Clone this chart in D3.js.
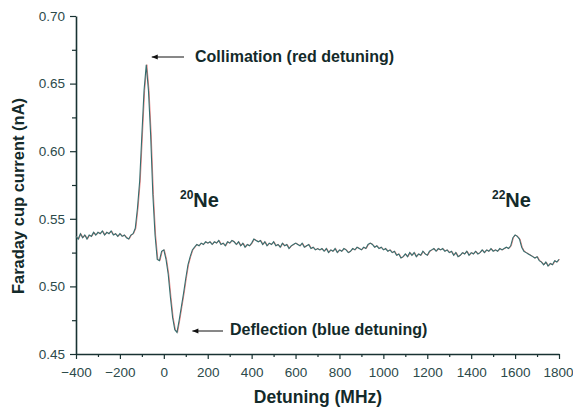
<!DOCTYPE html>
<html>
<head>
<meta charset="utf-8">
<script src="https://cdn.jsdelivr.net/npm/d3@7"></script>
<style>
  body { margin: 0; background: #fff; }
  svg { display: block; font-family: "Liberation Sans", Arial, sans-serif; }
</style>
</head>
<body>
<svg id="chart"></svg>
<script>
// detuning grid (MHz), one sample every 10 MHz
var detuning = d3.range(-400, 1801, 10);

// Faraday cup current (nA)
var current = [
  0.537,0.535,0.539,0.536,0.538,0.535,0.538,0.537,0.540,0.538, // -400..-310
  0.540,0.539,0.541,0.538,0.540,0.539,0.541,0.538,0.539,0.537, // -300..-210
  0.539,0.537,0.538,0.536,0.535,0.538,0.539,0.543,0.558,0.578, // -200..-110
  0.612,0.645,0.664,0.645,0.612,0.568,0.538,0.520,0.519,0.526, // -100..-10
  0.527,0.520,0.509,0.492,0.477,0.468,0.466,0.475,0.485,0.495, // 0..90
  0.506,0.516,0.522,0.527,0.529,0.531,0.530,0.532,0.531,0.533, // 100..190
  0.532,0.533,0.531,0.533,0.532,0.534,0.531,0.532,0.530,0.533, // 200..290
  0.532,0.534,0.533,0.531,0.533,0.530,0.532,0.529,0.531,0.530, // 300..390
  0.532,0.535,0.534,0.533,0.534,0.531,0.533,0.530,0.532,0.531, // 400..490
  0.533,0.530,0.531,0.529,0.532,0.530,0.531,0.528,0.530,0.531, // 500..590
  0.532,0.531,0.530,0.532,0.529,0.530,0.531,0.528,0.529,0.527, // 600..690
  0.528,0.527,0.528,0.526,0.528,0.525,0.527,0.526,0.528,0.525, // 700..790
  0.527,0.526,0.528,0.527,0.525,0.526,0.528,0.527,0.529,0.528, // 800..890
  0.527,0.529,0.528,0.531,0.532,0.531,0.529,0.530,0.528,0.529, // 900..990
  0.527,0.528,0.526,0.527,0.525,0.526,0.523,0.524,0.521,0.522, // 1000..1090
  0.524,0.522,0.525,0.523,0.525,0.522,0.524,0.523,0.526,0.524, // 1100..1190
  0.523,0.526,0.527,0.528,0.526,0.528,0.527,0.528,0.526,0.527, // 1200..1290
  0.525,0.526,0.523,0.525,0.522,0.523,0.525,0.524,0.526,0.523, // 1300..1390
  0.525,0.524,0.526,0.524,0.525,0.527,0.525,0.527,0.526,0.528, // 1400..1490
  0.526,0.527,0.526,0.528,0.527,0.528,0.529,0.528,0.530,0.536, // 1500..1590
  0.538,0.537,0.535,0.529,0.526,0.525,0.524,0.523,0.522,0.521, // 1600..1690
  0.522,0.519,0.518,0.516,0.518,0.515,0.517,0.516,0.519,0.518, // 1700..1790
  0.520                                                        // 1800
];

var xTicks = [-400,-200,0,200,400,600,800,1000,1200,1400,1600,1800];
var yTicks = [0.45,0.50,0.55,0.60,0.65,0.70];

var W = 573, H = 409;
var margin = {top: 16, right: 14, bottom: 55, left: 76};
var width = W - margin.left - margin.right,
    height = H - margin.top - margin.bottom;

var svg = d3.select("#chart").attr("width", W).attr("height", H);
var g = svg.append("g")
    .attr("transform", "translate(" + margin.left + "," + margin.top + ")");

var x = d3.scaleLinear().domain([-400, 1800]).range([0, width]);
var y = d3.scaleLinear().domain([0.45, 0.70]).range([height, 0]);

var axisColor = "#183232";
var tickText = "#2c4a4a";

// minor ticks
g.append("g")
    .attr("transform", "translate(0," + height + ")")
    .call(d3.axisBottom(x).tickValues(d3.range(-300, 1800, 200)).tickSize(3).tickFormat("").tickSizeOuter(0))
    .call(function(a) { a.select(".domain").remove(); a.selectAll("line").attr("stroke", axisColor).attr("stroke-width", 1.2); });
g.append("g")
    .call(d3.axisLeft(y).tickValues([0.475,0.525,0.575,0.625,0.675]).tickSize(4).tickFormat("").tickSizeOuter(0))
    .call(function(a) { a.select(".domain").remove(); a.selectAll("line").attr("stroke", axisColor).attr("stroke-width", 1.2); });

// major axes
var xa = g.append("g")
    .attr("transform", "translate(0," + height + ")")
    .call(d3.axisBottom(x).tickValues(xTicks).tickSize(5).tickPadding(8).tickFormat(d3.format("d")).tickSizeOuter(0));
var ya = g.append("g")
    .call(d3.axisLeft(y).tickValues(yTicks).tickSize(6).tickPadding(5).tickFormat(d3.format(".2f")).tickSizeOuter(0));

[xa, ya].forEach(function(a) {
  a.select(".domain").attr("stroke", axisColor).attr("stroke-width", 1.6);
  a.selectAll(".tick line").attr("stroke", axisColor).attr("stroke-width", 1.2);
  a.selectAll(".tick text").attr("fill", tickText)
      .style("font-size", "13.5px").style("font-family", "'Liberation Sans', Arial, sans-serif");
});
// last x label sits against the page edge
xa.selectAll(".tick text").filter(function(d) { return d === 1800; }).attr("dx", -1);

// the trace (two overlapping scans, red underneath)
var pts = detuning.map(function(d, i) { return [d, current[i]]; });
var line = d3.line().x(function(d) { return x(d[0]); }).y(function(d) { return y(d[1]); });

g.append("path").datum(pts)
    .attr("d", line)
    .attr("fill", "none")
    .attr("stroke", "#e88080")
    .attr("stroke-width", 1)
    .attr("transform", "translate(0.6,0)");
g.append("path").datum(pts)
    .attr("d", line)
    .attr("fill", "none")
    .attr("stroke", "#356e6e")
    .attr("stroke-width", 1.1);

// axis titles
svg.append("text")
    .attr("x", 318).attr("y", 403)
    .attr("text-anchor", "middle")
    .attr("fill", "#132a2a")
    .style("font-weight", "bold").style("font-size", "17.5px")
    .text("Detuning (MHz)");
svg.append("text")
    .attr("transform", "translate(24,196) rotate(-90)")
    .attr("text-anchor", "middle")
    .attr("fill", "#132a2a")
    .style("font-weight", "bold").style("font-size", "16.5px")
    .text("Faraday cup current (nA)");

// annotations
svg.append("defs").append("marker")
    .attr("id", "ah")
    .attr("viewBox", "0 0 10 10")
    .attr("refX", 0).attr("refY", 5)
    .attr("markerWidth", 9).attr("markerHeight", 6)
    .attr("markerUnits", "userSpaceOnUse")
    .attr("orient", "auto")
    .append("path").attr("d", "M0,5 L10,1 L10,9 Z").attr("fill", "#111");

function arrowNote(xFrom, xTo, yy, tx, ty, label) {
  svg.append("line")
      .attr("x1", xFrom).attr("x2", xTo).attr("y1", yy).attr("y2", yy)
      .attr("stroke", "#111").attr("stroke-width", 1)
      .attr("marker-start", "url(#ah)");
  svg.append("text")
      .attr("x", tx).attr("y", ty)
      .attr("fill", "#132a2a")
      .style("font-weight", "bold").style("font-size", "16px")
      .text(label);
}
arrowNote(x(-55) + margin.left, 184, 57, 195, 62, "Collimation (red detuning)");
arrowNote(x(130) + margin.left, 223, 331, 230, 335, "Deflection (blue detuning)");

function isotope(tx, mass) {
  var t = svg.append("text")
      .attr("x", tx).attr("y", 207)
      .attr("fill", "#132a2a")
      .style("font-weight", "bold");
  t.append("tspan").text(mass).style("font-size", "12px").attr("dy", -8);
  t.append("tspan").text("Ne").style("font-size", "20px").attr("dy", 8);
}
isotope(180, "20");
isotope(492, "22");
</script>
</body>
</html>
